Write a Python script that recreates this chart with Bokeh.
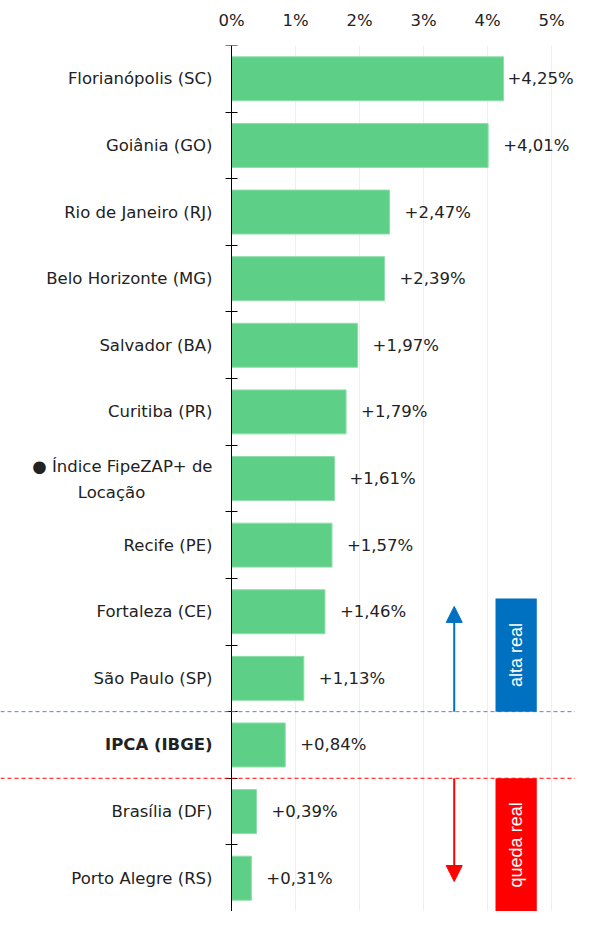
import math
from bokeh.plotting import figure
from bokeh.models import (Range1d, FixedTicker, LinearAxis, ColumnDataSource, LabelSet,
                          Span, BoxAnnotation, Label, Arrow, NormalHead)
from bokeh.core.properties import value, field
from bokeh.embed import file_html
from bokeh.resources import INLINE

# ---- data ----
categories = ["Florianópolis (SC)", "Goiânia (GO)", "Rio de Janeiro (RJ)", "Belo Horizonte (MG)",
              "Salvador (BA)", "Curitiba (PR)", "● Índice FipeZAP+ de\nLocação", "Recife (PE)",
              "Fortaleza (CE)", "São Paulo (SP)", "IPCA (IBGE)", "Brasília (DF)", "Porto Alegre (RS)"]
values = [4.25, 4.01, 2.47, 2.39, 1.97, 1.79, 1.61, 1.57, 1.46, 1.13, 0.84, 0.39, 0.31]
value_labels = ["+4,25%", "+4,01%", "+2,47%", "+2,39%", "+1,97%", "+1,79%", "+1,61%",
                "+1,57%", "+1,46%", "+1,13%", "+0,84%", "+0,39%", "+0,31%"]
label_styles = ["normal"] * 10 + ["bold"] + ["normal"] * 2
x_ticks = [0, 1, 2, 3, 4, 5]
x_tick_labels = ["0%", "1%", "2%", "3%", "4%", "5%"]
reference_name = "IPCA (IBGE)"

FONT = "DejaVu Sans"
FS = "16.5px"
W, H = 575, 911
X0, X1 = -3.61, 5.375
n = len(categories)
ys = [n - i - 0.5 for i in range(n)]
ipca_row = categories.index(reference_name)
ipca_y = ys[ipca_row]

# value-label offset: default gap, pulled in when the label would leave the frame
px_per_unit = W / (X1 - X0)
est_label_w = 64
offsets = [min(15, (X1 - v) * px_per_unit - est_label_w - 4) for v in values]

single = [i for i, c in enumerate(categories) if "\n" not in c]
multi = [i for i, c in enumerate(categories) if "\n" in c]

src = ColumnDataSource(dict(y=ys, v=values, cat=categories, vl=value_labels, st=label_styles,
                            off=offsets))
src_single = ColumnDataSource(dict(y=[ys[i] for i in single],
                                   cat=[categories[i] for i in single],
                                   st=[label_styles[i] for i in single]))

p = figure(width=W, height=H, x_range=Range1d(X0, X1), y_range=Range1d(0, n),
           x_axis_location="above", output_backend="svg", toolbar_location=None,
           min_border_left=0, min_border_right=0, min_border_bottom=0, min_border_top=45)
p.outline_line_color = None
p.yaxis.visible = False
p.ygrid.visible = False

# x axis
p.xaxis.ticker = FixedTicker(ticks=x_ticks)
p.xaxis.major_label_overrides = {t: l for t, l in zip(x_ticks, x_tick_labels)}
p.xaxis.axis_line_color = None
p.xaxis.major_tick_line_color = None
p.xaxis.major_tick_in = 0
p.xaxis.major_tick_out = 0
p.xaxis.minor_tick_line_color = None
p.xaxis.major_label_text_font = FONT
p.xaxis.major_label_text_font_size = FS
p.xaxis.major_label_text_color = "#222222"
p.xaxis.major_label_standoff = 16
p.xgrid.ticker = FixedTicker(ticks=x_ticks)
p.xgrid.grid_line_color = "#eeeeee"

# bars
p.hbar(y="y", right="v", left=0, height=0.66, source=src,
       fill_color="#5ECF87", line_color="#8fdeaa", line_width=1)

# y axis line at 0 with ticks at category boundaries
yax = LinearAxis(fixed_location=0,
                 ticker=FixedTicker(ticks=[], minor_ticks=list(range(n + 1))))
yax.major_label_text_font_size = "0px"
yax.major_tick_line_color = None
yax.minor_tick_in = 6
yax.minor_tick_out = 6
yax.minor_tick_line_color = "black"
yax.axis_line_color = "black"
yax.major_label_standoff = 0
p.add_layout(yax, "left")

# category labels
p.add_layout(LabelSet(x=0, y="y", text="cat", source=src_single, x_offset=-19,
                      text_align="right", text_baseline="middle",
                      text_font=value(FONT), text_font_size=FS,
                      text_font_style=field("st"), text_color="#222222"))
# two-line label: first line right aligned, second line centred under it
for i in multi:
    l1, l2 = categories[i].split("\n")
    p.add_layout(Label(x=0, y=ys[i], text=l1, x_offset=-19, y_offset=12,
                       text_align="right", text_baseline="middle",
                       text_font=FONT, text_font_size=FS, text_color="#222222"))
    p.add_layout(Label(x=0, y=ys[i], text=l2, x_offset=-120, y_offset=-14,
                       text_align="center", text_baseline="middle",
                       text_font=FONT, text_font_size=FS, text_color="#222222"))

# value labels
p.add_layout(LabelSet(x="v", y="y", text="vl", source=src, x_offset="off",
                      text_align="left", text_baseline="middle",
                      text_font=value(FONT), text_font_size=FS, text_color="#222222"))

# reference lines
up_line = ipca_y + 0.5
down_line = ipca_y - 0.5
p.add_layout(Span(location=up_line, dimension="width", line_color="#5B87C5",
                  line_dash="4 3", line_width=1))
p.add_layout(Span(location=down_line, dimension="width", line_color="#FF0000",
                  line_dash="4 3", line_width=1))

# legend boxes
p.add_layout(BoxAnnotation(left=4.125, right=4.77, bottom=up_line, top=up_line + 1.7,
                           fill_color="#0070C0", fill_alpha=1, line_color=None))
p.add_layout(BoxAnnotation(left=4.125, right=4.77, bottom=0, top=down_line,
                           fill_color="#FF0000", fill_alpha=1, line_color=None))
p.add_layout(Label(x=4.45, y=up_line + 0.85, text="alta real", angle=math.pi / 2,
                   text_align="center", text_baseline="middle", text_color="white",
                   text_font="Liberation Sans", text_font_size="18px"))
p.add_layout(Label(x=4.45, y=down_line / 2, text="queda real", angle=math.pi / 2,
                   text_align="center", text_baseline="middle", text_color="white",
                   text_font="Liberation Sans", text_font_size="18px"))

# arrows
p.add_layout(Arrow(end=NormalHead(size=16, fill_color="#0070C0", line_color="#0070C0"),
                   x_start=3.48, y_start=up_line, x_end=3.48, y_end=up_line + 1.58,
                   line_color="#0070C0", line_width=2))
p.add_layout(Arrow(end=NormalHead(size=16, fill_color="#FF0000", line_color="#FF0000"),
                   x_start=3.48, y_start=down_line, x_end=3.48, y_end=down_line - 1.55,
                   line_color="#FF0000", line_width=2))

open("out.html", "w").write(file_html(p, INLINE))
